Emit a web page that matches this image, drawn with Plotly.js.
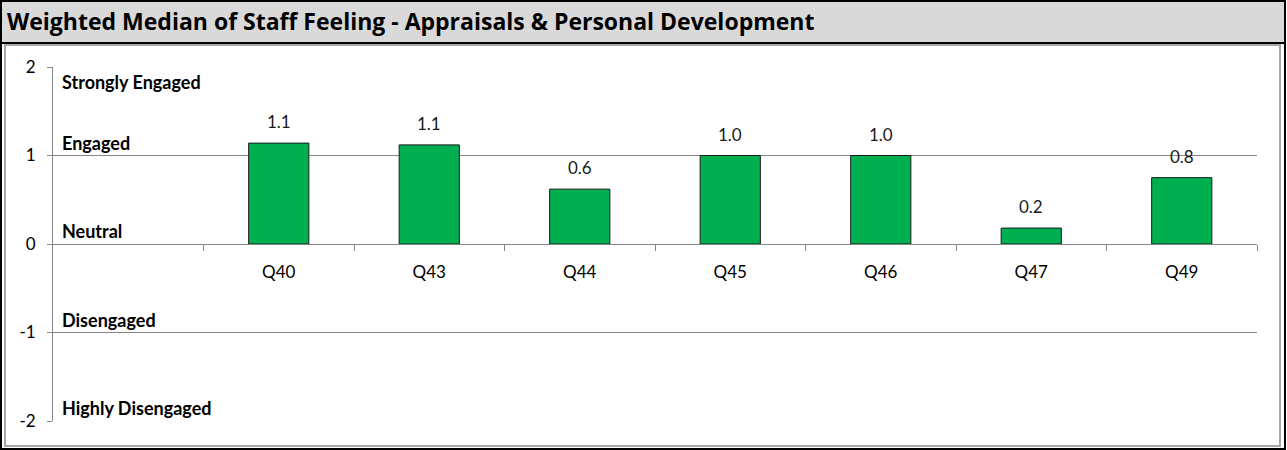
<!DOCTYPE html>
<html>
<head>
<meta charset="utf-8">
<script src="https://cdn.plot.ly/plotly-3.0.1.min.js"></script>
<style>
  body { margin: 0; background: #ffffff; }
  #chart { width: 1287px; height: 450px; }
</style>
</head>
<body>
<div id="chart"></div>
<script>
// Data
var questions = ["Q40", "Q43", "Q44", "Q45", "Q46", "Q47", "Q49"];
var medians = [1.14, 1.12, 0.62, 1.0, 1.0, 0.18, 0.75];
var levelNames = ["Strongly Engaged", "Engaged", "Neutral", "Disengaged", "Highly Disengaged"];
var levelValues = [2, 1, 0, -1, -2];
var yTicks = [-2, -1, 0, 1, 2];
var yTickText = ["-2", "-1", "0", "1", "2"];

// plot box in pixels, used to convert the frame into paper coords
var W = 1287, H = 450;
var L = 53, R = 30, T = 67, B = 29;
var pw = W - L - R, ph = H - T - B;
function px(x) { return (x - L) / pw; }
function py(y) { return (H - B - y) / ph; }

var font = "Lato, 'Open Sans', sans-serif";

var trace = {
  x: questions,
  y: medians,
  type: "bar",
  width: 0.4,
  marker: { color: "#00b050", line: { color: "#1a1a1a", width: 1 } },
  hoverinfo: "x+y"
};

var annotations = [];
// value labels over bars
for (var i = 0; i < questions.length; i++) {
  annotations.push({
    x: questions[i], y: medians[i], xref: "x", yref: "y",
    text: medians[i].toFixed(1), showarrow: false,
    yanchor: "bottom", yshift: 9,
    font: { family: font, size: 17, color: "#1a1a1a" }
  });
}
// engagement level names on the left
for (var j = 0; j < levelNames.length; j++) {
  var atTop = levelValues[j] == 2;
  annotations.push({
    x: px(60), y: levelValues[j], xref: "paper", yref: "y",
    text: "<b>" + levelNames[j] + "</b>", showarrow: false,
    xanchor: "left", yanchor: atTop ? "top" : "bottom", yshift: atTop ? -2 : 0,
    font: { family: font, size: 18, color: "#000000" }
  });
}

var shapes = [
  // title band
  { type: "rect", xref: "paper", yref: "paper", x0: px(1), x1: px(1285), y0: py(43), y1: py(1),
    fillcolor: "#d9d9d9", line: { color: "#000000", width: 2 }, layer: "below" },
  // inner plot frame
  { type: "rect", xref: "paper", yref: "paper", x0: px(5), x1: px(1280), y0: py(446), y1: py(45),
    fillcolor: "rgba(0,0,0,0)", line: { color: "#a6a6a6", width: 2 }, layer: "below" },
  // outer frame
  { type: "rect", xref: "paper", yref: "paper", x0: px(1), x1: px(1285), y0: py(449), y1: py(1),
    fillcolor: "rgba(0,0,0,0)", line: { color: "#000000", width: 2 }, layer: "below" }
];

var layout = {
  width: W,
  height: H,
  margin: { l: L, r: R, t: T, b: B },
  paper_bgcolor: "#ffffff",
  plot_bgcolor: "#ffffff",
  showlegend: false,
  title: {
    text: "<b>Weighted Median of Staff Feeling - Appraisals & Personal Development</b>",
    x: 7 / W, xanchor: "left", xref: "container",
    y: 1 - 22 / H, yanchor: "middle", yref: "container",
    font: { family: "'Open Sans', Lato, sans-serif", size: 23, color: "#000000" }
  },
  xaxis: {
    type: "category",
    range: [-1.5, 6.5],
    anchor: "free",
    position: 0.5,
    showline: true,
    linecolor: "#868686",
    linewidth: 1,
    ticks: "outside",
    tickson: "boundaries",
    ticklen: 6,
    tickcolor: "#868686",
    ticklabelstandoff: 13,
    showgrid: false,
    zeroline: false,
    tickfont: { family: font, size: 17, color: "#000000" },
    fixedrange: true
  },
  yaxis: {
    range: [-2, 2],
    tickvals: yTicks,
    ticktext: yTickText,
    showline: true,
    linecolor: "#868686",
    linewidth: 1,
    ticks: "outside",
    ticklen: 5,
    tickcolor: "#868686",
    ticklabelstandoff: 8,
    showgrid: true,
    gridcolor: "#868686",
    gridwidth: 1,
    zeroline: true,
    zerolinecolor: "#868686",
    zerolinewidth: 1,
    tickfont: { family: font, size: 17, color: "#000000" },
    fixedrange: true
  },
  annotations: annotations,
  shapes: shapes
};

var config = { responsive: false, displayModeBar: false };

Plotly.newPlot("chart", [trace], layout, config);
</script>
</body>
</html>
